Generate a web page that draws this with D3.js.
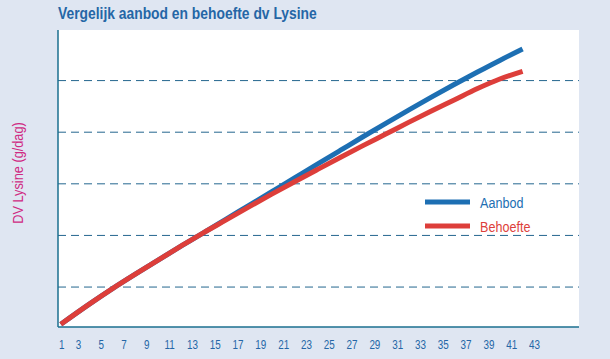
<!DOCTYPE html>
<html>
<head>
<meta charset="utf-8">
<script src="https://cdn.jsdelivr.net/npm/d3@7"></script>
<style>
  body { margin: 0; background: #dfe6f2; }
  svg { display: block; }
  text { font-family: "Liberation Sans Narrow", "Arial Narrow", "Liberation Sans", sans-serif; }
</style>
</head>
<body>
<script>
// SET UP DIMENSIONS
var w = 610,
    h = 359;

// plot frame (white area)
var plot = { left: 58, right: 579, top: 30, bottom: 327 };

// no narrow font installed, so squeeze the text horizontally
var narrow = 0.8;

// DATA (days, and DV Lysine for each series)
var days     = [1.5, 4, 6, 8, 10, 12, 14, 16, 18, 20, 22, 24, 26, 28, 30, 32, 34, 36, 38, 40, 42];
var aanbod   = [1.4, 3.35, 4.83, 6.23, 7.59, 8.93, 10.25, 11.58, 12.91, 14.24, 15.57, 16.9, 18.23, 19.56, 20.86, 22.14, 23.4, 24.62, 25.8, 26.95, 28.05];
var behoefte = [1.4, 3.35, 4.83, 6.23, 7.59, 8.93, 10.25, 11.5, 12.76, 14.0, 15.2, 16.38, 17.55, 18.7, 19.82, 20.95, 22.05, 23.12, 24.2, 25.15, 25.9];
var xTicks   = d3.range(1, 44, 2);
var gridTicks = [5, 10, 15, 20, 25];
var seriesNames = ['Aanbod', 'Behoefte'];

var colors = { Aanbod: '#1d6fb3', Behoefte: '#dd3e3a' };

var svg = d3.select('body').append('svg')
  .attr('width', w)
  .attr('height', h);

svg.append('rect')
  .attr('width', w).attr('height', h)
  .attr('fill', '#dfe6f2');

// SCALES
var xScale = d3.scaleLinear()
  .domain([1, 43])
  .range([55.1, 534]);

var yScale = d3.scaleLinear()
  .domain([1.13, 29.9])
  .range([plot.bottom, plot.top]);

// WHITE PLOT AREA
svg.append('rect')
  .attr('x', plot.left)
  .attr('y', plot.top)
  .attr('width', plot.right - plot.left)
  .attr('height', plot.bottom - plot.top)
  .attr('fill', '#ffffff');

// TITLE
svg.append('g')
  .attr('transform', translation(58, 19) + ' scale(0.84,1)')
  .append('text')
    .attr('fill', '#2566a6')
    .style('font-weight', 'bold')
    .style('font-size', '16.5px')
    .text('Vergelijk aanbod en behoefte dv Lysine');

// GRIDLINES
svg.append('g')
  .selectAll('line')
  .data(gridTicks)
  .enter().append('line')
    .attr('x1', plot.left)
    .attr('x2', plot.right)
    .attr('y1', function(d) { return yScale(d); })
    .attr('y2', function(d) { return yScale(d); })
    .attr('stroke', '#24668f')
    .attr('stroke-width', 1)
    .attr('stroke-dasharray', '8,5');

// FRAME LINES (left + bottom)
svg.append('line')
  .attr('x1', plot.left).attr('x2', plot.left)
  .attr('y1', plot.top).attr('y2', plot.bottom)
  .attr('stroke', '#1b6f8f').attr('stroke-width', 1.5);
svg.append('line')
  .attr('x1', plot.left).attr('x2', plot.right)
  .attr('y1', plot.bottom).attr('y2', plot.bottom)
  .attr('stroke', '#1b6f8f').attr('stroke-width', 1.5);

// X AXIS
var xAxis = d3.axisBottom(xScale)
  .tickValues(xTicks)
  .tickSize(0)
  .tickPadding(13);

var gx = svg.append('g')
  .attr('transform', translation(0, plot.bottom))
  .call(xAxis);
gx.select('.domain').remove();
gx.selectAll('text')
  .attr('fill', '#2566a6')
  .attr('transform', 'scale(' + (narrow - 0.04) + ',1)')
  .style('font-family', null)
  .style('font-size', '13px');
// the first label sits just right of the axis
gx.selectAll('.tick').filter(function(d) { return d === 1; })
  .select('text').attr('dx', 8);

// Y AXIS LABEL
svg.append('text')
  .attr('transform', translation(23, 173) + ' rotate(-90) scale(0.88,1)')
  .attr('text-anchor', 'middle')
  .attr('fill', '#cf2a82')
  .style('font-size', '14.5px')
  .text('DV Lysine (g/dag)');

// LINES
var line = d3.line()
  .x(function(d) { return xScale(d.day); })
  .y(function(d) { return yScale(d.v); })
  .curve(d3.curveMonotoneX);

var series = [
  { name: 'Aanbod', values: days.map(function(d, i) { return { day: d, v: aanbod[i] }; }) },
  { name: 'Behoefte', values: days.map(function(d, i) { return { day: d, v: behoefte[i] }; }) }
];

svg.append('g')
  .selectAll('path')
  .data(series)
  .enter().append('path')
    .attr('d', function(d) { return line(d.values); })
    .attr('fill', 'none')
    .attr('stroke', function(d) { return colors[d.name]; })
    .attr('stroke-width', 5);

// LEGEND
var legend = svg.append('g')
  .attr('transform', translation(425, 202));

var item = legend.selectAll('g')
  .data(seriesNames)
  .enter().append('g')
    .attr('transform', function(d, i) { return translation(0, i * 24); });

item.append('line')
  .attr('x1', 0).attr('x2', 45)
  .attr('stroke', function(d) { return colors[d]; })
  .attr('stroke-width', 5);

item.append('text')
  .attr('transform', translation(55, 6) + ' scale(0.84,1)')
  .attr('fill', function(d) { return colors[d]; })
  .style('font-size', '15px')
  .text(function(d) { return d; });

function translation(x, y) {
  return 'translate(' + x + ',' + y + ')';
}
</script>
</body>
</html>
